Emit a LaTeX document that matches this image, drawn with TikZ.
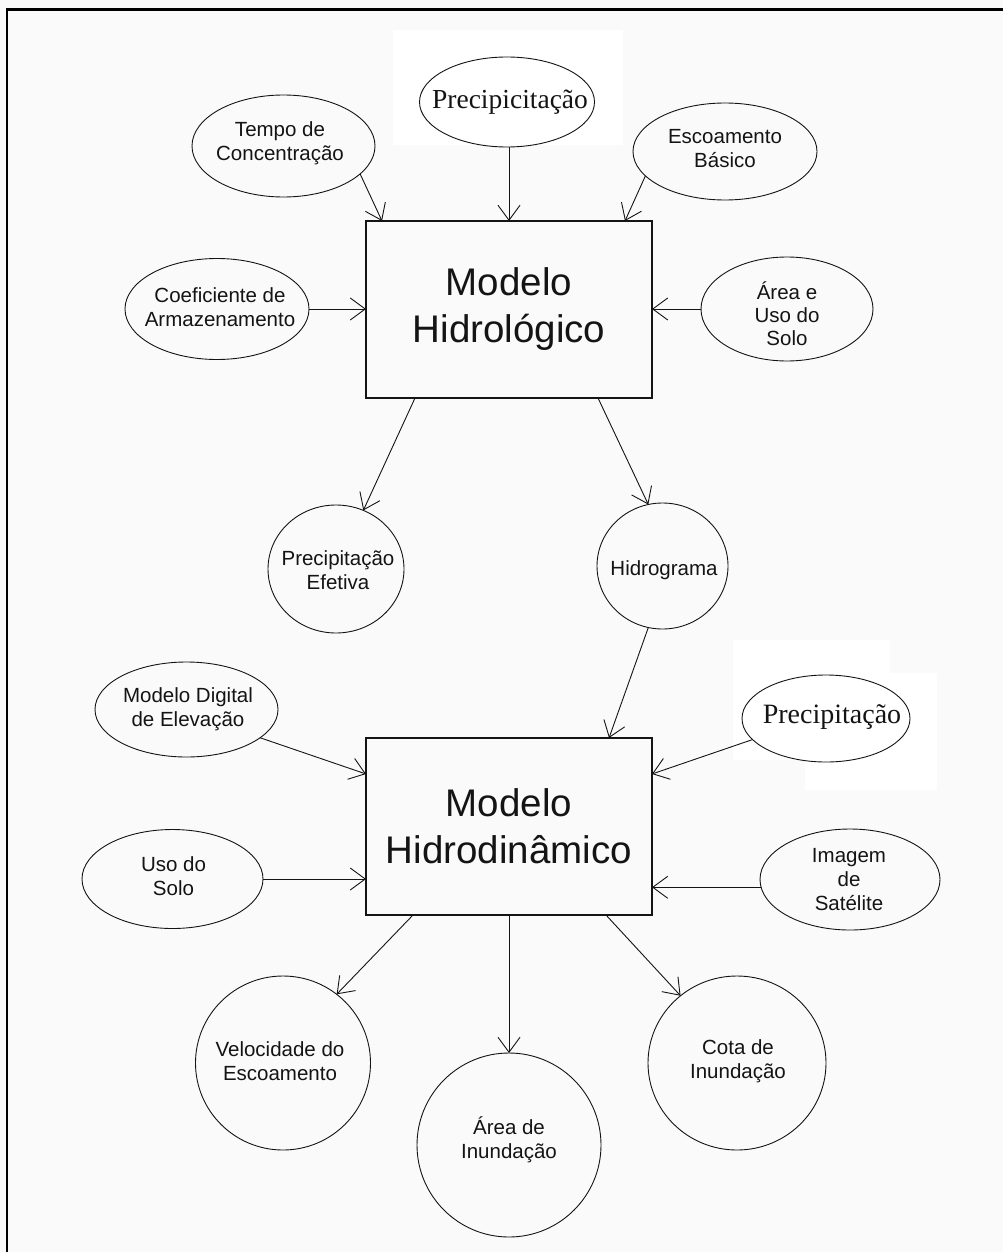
\documentclass[tikz,border=0pt]{standalone}
\usepackage{fontspec}
\setmainfont{Liberation Sans}
\newfontfamily\pcserif{Liberation Serif}
\usetikzlibrary{arrows.meta,calc,shapes.geometric}
\definecolor{bgc}{RGB}{250,250,250}
\definecolor{ink}{RGB}{20,20,20}
\begin{document}
\begin{tikzpicture}[x=1pt,y=-1pt,
  oval/.style={ellipse,draw=ink,line width=0.9pt,inner sep=0pt,outer sep=0pt},
  bigbox/.style={rectangle,draw=ink,line width=1.2pt,inner sep=0pt,outer sep=0pt,
    minimum width=286pt,minimum height=177pt,align=center,text=ink,
    font=\fontsize{38.5}{47}\selectfont},
  lbl/.style={align=center,inner sep=0pt,text=ink,font=\fontsize{20.5}{24}\selectfont},
  serlbl/.style={inner sep=0pt,text=ink},
  arr/.style={draw=ink,line width=0.9pt,-{Straight Barb[length=15pt,width=22pt,line width=0.9pt]}}
]
\useasboundingbox (0,0) rectangle (1003,1252);
\fill[bgc] (0,0) rectangle (1003,1252);
% pasted white patches
\fill[white] (393,30) rectangle (623,145);
\fill[white] (733,640) rectangle (890,760);
\fill[white] (805,673) rectangle (937,790);
% frame (top and left)
\draw[line width=2.5pt,black] (7,1252) -- (7,9.5) -- (1003,9.5);

% main boxes
\node[bigbox] (hbox) at (509,309.5) {Modelo\\Hidrológico};
\node[bigbox] (dbox) at (509,826.5) {Modelo\\Hidrodinâmico};

% ellipses / circles
\node[oval,minimum width=183pt,minimum height=102pt] (tempo) at (283.5,146) {};
\node[oval,minimum width=175pt,minimum height=90pt] (pc) at (507,102) {};
\node[oval,minimum width=184pt,minimum height=97pt] (esc) at (725,151.5) {};
\node[oval,minimum width=184pt,minimum height=101pt] (coef) at (217,309) {};
\node[oval,minimum width=172pt,minimum height=104pt] (area) at (787,309) {};
\node[oval,minimum width=136pt,minimum height=128pt] (pe) at (336,569) {};
\node[oval,minimum width=131pt,minimum height=126pt] (hg) at (662.5,566) {};
\node[oval,minimum width=183pt,minimum height=95pt] (mde) at (186.5,709.5) {};
\node[oval,minimum width=168pt,minimum height=87pt] (prl) at (826,718.5) {};
\node[oval,minimum width=181pt,minimum height=99pt] (uso) at (172.5,879) {};
\node[oval,minimum width=180pt,minimum height=101pt] (img) at (850,879.5) {};
\node[oval,minimum width=175pt,minimum height=174pt] (vel) at (283,1063) {};
\node[oval,minimum width=184pt,minimum height=184pt] (ai) at (509,1145) {};
\node[oval,minimum width=178pt,minimum height=174pt] (cota) at (737,1063) {};

% labels
\node[lbl] (tempo-t) at (280,143) {Tempo de\\Concentração};
\node[serlbl,font=\pcserif\fontsize{27.5}{33}\selectfont] (pc-t) at (510,102) {Precipicitação};
\node[lbl] (esc-t) at (725,149) {Escoamento\\Básico};
\node[lbl] (coef-t) at (220,307.5) {Coeficiente de\\Armazenamento};
\node[lbl,font=\fontsize{20.5}{23}\selectfont] (area-t) at (787,314) {Área e\\Uso do\\Solo};
\node[lbl] (pe-t) at (338,570) {Precipitação\\Efetiva};
\node[lbl] (hg-t) at (664,570) {Hidrograma};
\node[lbl] (mde-t) at (188,709.5) {Modelo Digital\\de Elevação};
\node[serlbl,font=\pcserif\fontsize{28}{33}\selectfont] (prl-t) at (832,717) {Precipitação};
\node[lbl] (uso-t) at (173.5,876) {Uso do\\Solo};
\node[lbl] (img-t) at (849,879.5) {Imagem\\de\\Satélite};
\node[lbl] (vel-t) at (280,1061.5) {Velocidade do\\Escoamento};
\node[lbl] (ai-t) at (509,1140) {Área de\\Inundação};
\node[lbl] (cota-t) at (738,1061) {Cota de\\Inundação};

% connectors
\draw[arr] (tempo.-20) -- ($(hbox.north west)+(16,0)$);
\draw[arr] (pc.south -| hbox.north) -- (hbox.north);
\draw[arr] (esc.-163) -- ($(hbox.north east)+(-27,0)$);
\draw[arr] (coef.east) -- (coef.east -| hbox.west);
\draw[arr] (area.west) -- (area.west -| hbox.east);
\draw[arr] ($(hbox.south west)+(49,0)$) -- (pe.65);
\draw[arr] ($(hbox.south east)+(-54,0)$) -- (hg.103);
\draw[arr] (hg.-103) -- ($(dbox.north east)+(-43,0)$);
\draw[arr] (mde.-21) -- ($(dbox.north west)+(0,36)$);
\draw[arr] (prl.-164) -- ($(dbox.north east)+(0,36)$);
\draw[arr] (uso.east) -- (uso.east -| dbox.west);
\draw[arr] (img.185) -- (img.185 -| dbox.east);
\draw[arr] ($(dbox.south west)+(47,0)$) -- (vel.52);
\draw[arr] (dbox.south) -- (ai.north);
\draw[arr] ($(dbox.south east)+(-46,0)$) -- (cota.130);
\end{tikzpicture}
\end{document}
